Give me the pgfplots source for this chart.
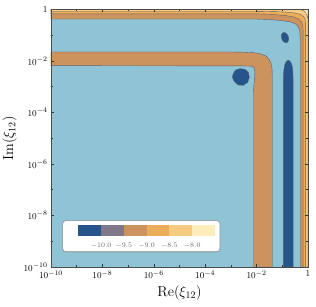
\documentclass[border=0pt]{standalone}
\usepackage{pgfplots}
\pgfplotsset{compat=1.18}
\definecolor{cbg}{RGB}{142,196,214}
\definecolor{cdb}{RGB}{38,84,140}
\definecolor{cgp}{RGB}{128,120,138}
\definecolor{ctan}{RGB}{205,147,94}
\definecolor{cor}{RGB}{236,173,90}
\definecolor{clo}{RGB}{246,202,128}
\definecolor{cpy}{RGB}{253,236,188}
\definecolor{cline}{RGB}{95,95,105}
\begin{document}
\begin{tikzpicture}
\begin{axis}[
  scale only axis, width=257bp, height=257.5bp,
  xmin=-10, xmax=0, ymin=-10, ymax=0,
  xtick={-10,-8,-6,-4,-2,0},
  xticklabels={$10^{-10}$,$10^{-8}$,$10^{-6}$,$10^{-4}$,$10^{-2}$,$1$},
  ytick={-10,-8,-6,-4,-2,0},
  yticklabels={$10^{-10}$,$10^{-8}$,$10^{-6}$,$10^{-4}$,$10^{-2}$,$1$},
  minor xtick={-9,-7,-5,-3,-1},
  minor ytick={-9,-7,-5,-3,-1},
  tick align=inside,
  major tick length=3bp, minor tick length=2bp,
  tick style={black!80, line width=0.5bp},
  axis line style={black!70, line width=0.8bp},
  tick label style={font=\fontsize{9.5}{11}\selectfont},
  label style={font=\fontsize{14}{16}\selectfont},
  xlabel={$\mathrm{Re}(\xi_{12})$},
  ylabel={$\mathrm{Im}(\xi_{12})$},
  axis on top,
  contour/.style={draw=cline, line width=0.4bp},
]
% background level
\addplot[fill=cbg, draw=none] coordinates {(-10,-10) (0,-10) (0,0) (-10,0)} -- cycle;
% top/right bands
\addplot[fill=ctan, contour] coordinates {
 (-10,-0.37) (-2.0,-0.37) (-1.5,-0.39) (-1.0,-0.43) (-0.7,-0.48) (-0.5,-0.55)
 (-0.39,-0.65) (-0.33,-0.78) (-0.31,-0.95) (-0.30,-1.2) (-0.30,-10)
 (0,-10) (0,0) (-10,0)} -- cycle;
\addplot[fill=cor, contour] coordinates {
 (-10,-0.17) (-2.0,-0.17) (-1.4,-0.19) (-0.9,-0.23) (-0.55,-0.29) (-0.35,-0.38)
 (-0.24,-0.50) (-0.20,-0.65) (-0.19,-0.85) (-0.19,-10)
 (0,-10) (0,0) (-10,0)} -- cycle;
\addplot[fill=clo, contour] coordinates {
 (-10,-0.07) (-2.0,-0.07) (-1.0,-0.09) (-0.55,-0.13) (-0.3,-0.19) (-0.16,-0.28)
 (-0.10,-0.42) (-0.09,-0.6) (-0.09,-10)
 (0,-10) (0,0) (-10,0)} -- cycle;
\addplot[fill=cpy, contour] coordinates {
 (-0.32,0) (-0.18,-0.04) (-0.1,-0.1) (-0.05,-0.2) (-0.02,-0.3) (0,-0.36) (0,0)} -- cycle;
% L-shaped band
\addplot[fill=ctan, contour] coordinates {
 (-10,-1.65) (-3.0,-1.65) (-2.5,-1.66) (-2.1,-1.68) (-1.85,-1.72) (-1.65,-1.80)
 (-1.52,-1.92) (-1.44,-2.08) (-1.40,-2.3) (-1.39,-2.6) (-1.39,-10)
 (-2.12,-10) (-2.12,-3.2) (-2.10,-2.85) (-2.07,-2.6) (-2.07,-2.4) (-2.10,-2.26)
 (-2.2,-2.2) (-2.5,-2.19) (-10,-2.18)} -- cycle;
% dark blue islands
\addplot[fill=cdb, contour] coordinates {
 (-2.905,-2.479) (-2.814,-2.350) (-2.646,-2.298) (-2.451,-2.324) (-2.322,-2.440)
 (-2.283,-2.634) (-2.348,-2.828) (-2.516,-2.945) (-2.711,-2.932) (-2.867,-2.803)
 (-2.944,-2.634)} -- cycle;
\addplot[fill=cdb, contour] coordinates {
 (-0.96,-10) (-0.96,-3.0) (-0.955,-2.6) (-0.94,-2.35) (-0.91,-2.17) (-0.86,-2.04)
 (-0.79,-1.97) (-0.72,-1.99) (-0.66,-2.07) (-0.615,-2.2) (-0.59,-2.4) (-0.58,-2.7)
 (-0.575,-3.2) (-0.575,-10)} -- cycle;
\addplot[fill=cdb, contour] coordinates {
 (-0.755,-1.09) (-0.794,-0.99) (-0.86,-0.917) (-0.935,-0.89) (-1.0,-0.917)
 (-1.036,-0.99) (-1.035,-1.09) (-0.996,-1.19) (-0.93,-1.263) (-0.855,-1.29)
 (-0.79,-1.263) (-0.754,-1.19)} -- cycle;
% colour key
\draw[rounded corners=3bp, fill=white, draw=black!45, line width=0.6bp]
  (axis cs:-9.545,-8.20) rectangle (axis cs:-3.424,-9.406);
\fill[cdb] (axis cs:-8.938,-8.369) rectangle (axis cs:-8.051,-8.784);
\fill[cgp] (axis cs:-8.051,-8.369) rectangle (axis cs:-7.165,-8.784);
\fill[ctan] (axis cs:-7.165,-8.369) rectangle (axis cs:-6.278,-8.784);
\fill[cor] (axis cs:-6.278,-8.369) rectangle (axis cs:-5.392,-8.784);
\fill[clo] (axis cs:-5.392,-8.369) rectangle (axis cs:-4.505,-8.784);
\fill[cpy] (axis cs:-4.505,-8.369) rectangle (axis cs:-3.619,-8.784);
\begin{scope}[every node/.style={font=\fontsize{7.2}{8}\selectfont, text=black!60}]
\node at (axis cs:-8.051,-9.173) {$-10.0$};
\node at (axis cs:-7.165,-9.173) {$-9.5$};
\node at (axis cs:-6.278,-9.173) {$-9.0$};
\node at (axis cs:-5.392,-9.173) {$-8.5$};
\node at (axis cs:-4.505,-9.173) {$-8.0$};
\end{scope}
\end{axis}
\pgfresetboundingbox
\path[use as bounding box] ([xshift=-51bp,yshift=-40bp]current axis.south west) rectangle ([xshift=8bp,yshift=9.5bp]current axis.north east);
\end{tikzpicture}
\end{document}
